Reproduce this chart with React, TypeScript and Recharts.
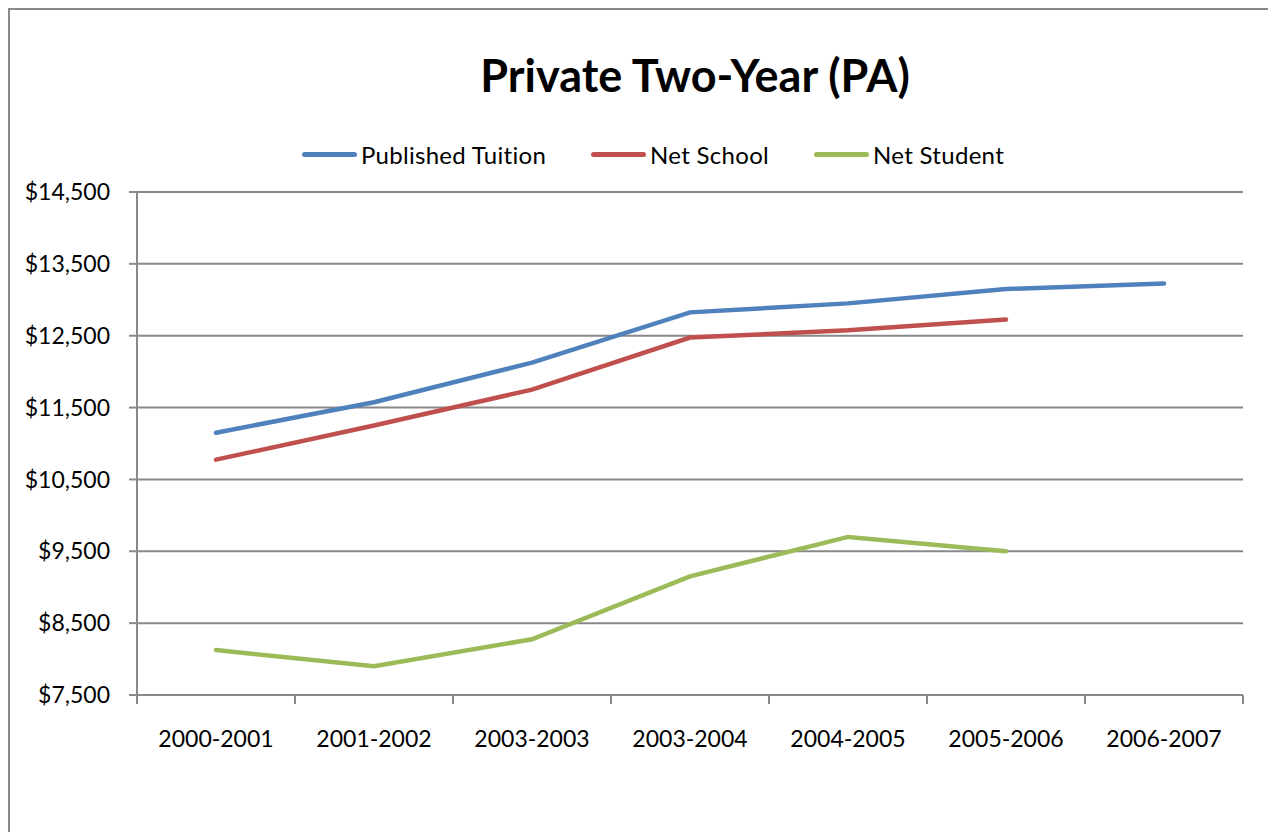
import { LineChart, Line, XAxis, YAxis, CartesianGrid, Legend } from "recharts";

const categories = [
  "2000-2001",
  "2001-2002",
  "2003-2003",
  "2003-2004",
  "2004-2005",
  "2005-2006",
  "2006-2007",
];
const publishedTuition = [11150, 11575, 12125, 12825, 12950, 13150, 13225];
const netSchool = [10775, 11250, 11750, 12475, 12575, 12725, null];
const netStudent = [8125, 7900, 8275, 9150, 9700, 9500, null];

const yTicks = [7500, 8500, 9500, 10500, 11500, 12500, 13500, 14500];
// labels sit on category centres, tick marks on the boundaries between them
const xTicks = [-0.5, 0, 0.5, 1, 1.5, 2, 2.5, 3, 3.5, 4, 4.5, 5, 5.5, 6, 6.5];

const seriesInfo = [
  { key: "published", name: "Published Tuition", color: "#4F81BD" },
  { key: "school", name: "Net School", color: "#C0504D" },
  { key: "student", name: "Net Student", color: "#9BBB59" },
];

const FONT = "Lato, 'Open Sans', sans-serif";
const GRAY = "#898989";

const data = categories.map((c, i) => ({
  idx: i,
  category: c,
  published: publishedTuition[i],
  school: netSchool[i],
  student: netStudent[i],
}));

function XTick(props: any) {
  const { x, y, payload } = props;
  const v = payload.value;
  if (!Number.isInteger(v)) {
    return <line x1={x} x2={x} y1={y} y2={y + 9} stroke={GRAY} strokeWidth={2} />;
  }
  return (
    <text x={x} y={y + 52} textAnchor="middle" fontSize={23} fill="#000" fontFamily={FONT}>
      {categories[v]}
    </text>
  );
}

function LegendContent() {
  return (
    <div
      style={{
        display: "flex",
        justifyContent: "center",
        alignItems: "center",
        height: 30,
        fontFamily: FONT,
        fontSize: 24,
        letterSpacing: 0.3,
        color: "#000",
      }}
    >
      {seriesInfo.map((s, i) => (
        <div
          key={s.key}
          style={{ display: "flex", alignItems: "center", marginLeft: i === 0 ? 0 : 45 }}
        >
          <span
            style={{
              display: "inline-block",
              width: 55,
              height: 5,
              borderRadius: 3,
              background: s.color,
              marginRight: 4,
            }}
          />
          <span>{s.name}</span>
        </div>
      ))}
    </div>
  );
}

export default function App() {
  return (
    <div
      style={{
        position: "relative",
        width: 1268,
        height: 824,
        borderTop: `2px solid ${GRAY}`,
        borderLeft: `2px solid ${GRAY}`,
        boxSizing: "border-box",
        background: "#fff",
      }}
    >
      <div
        style={{
          position: "absolute",
          left: 0,
          top: 43,
          width: 1370,
          textAlign: "center",
          fontFamily: FONT,
          fontWeight: 700,
          fontSize: 45,
          lineHeight: 1,
          color: "#000",
        }}
      >
        Private Two-Year (PA)
      </div>
      <LineChart
        width={1266}
        height={822}
        data={data}
        margin={{ top: 152, right: 33, left: 0, bottom: 0 }}
      >
        <CartesianGrid horizontal vertical={false} stroke={GRAY} strokeWidth={2} />
        <XAxis
          dataKey="idx"
          type="number"
          domain={[-0.5, 6.5]}
          ticks={xTicks}
          interval={0}
          allowDataOverflow
          height={137}
          tickLine={false}
          tickSize={0}
          tickMargin={0}
          axisLine={{ stroke: GRAY, strokeWidth: 2 }}
          tick={<XTick />}
        />
        <YAxis
          width={127}
          domain={[7500, 14500]}
          ticks={yTicks}
          interval={0}
          allowDataOverflow
          tickSize={8}
          tickMargin={19}
          tickLine={{ stroke: GRAY, strokeWidth: 2 }}
          axisLine={{ stroke: GRAY, strokeWidth: 2 }}
          tick={{ fill: "#000", fontSize: 23, fontFamily: FONT }}
          tickFormatter={(v: number) => "$" + v.toLocaleString("en-US")}
        />
        <Legend
          verticalAlign="top"
          align="center"
          height={30}
          content={<LegendContent />}
          wrapperStyle={{ top: 129, left: 0, width: 1286 }}
        />
        {seriesInfo.map((s) => (
          <Line
            key={s.key}
            type="linear"
            dataKey={s.key}
            name={s.name}
            stroke={s.color}
            strokeWidth={4.5}
            strokeLinecap="round"
            dot={false}
            activeDot={false}
            isAnimationActive={false}
          />
        ))}
      </LineChart>
    </div>
  );
}
